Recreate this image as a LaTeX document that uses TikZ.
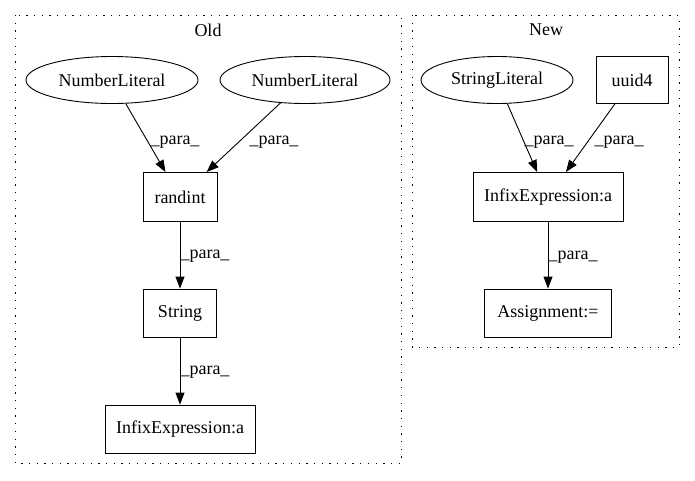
\documentclass[tikz,border=0pt]{standalone}
\usepackage{fontspec}
\setmainfont{Liberation Serif}
\usetikzlibrary{arrows.meta,shapes.geometric}

\begin{document}
\begin{tikzpicture}[x=1pt,y=-1pt]
			\tikzstyle{every node}+=[inner sep=0pt,font=\fontsize{18}{21}\selectfont]
			\tikzstyle{lit}=[draw,ellipse,line width=0.9pt,minimum height=47,minimum width=172]
			\tikzstyle{op}=[draw,rectangle,line width=0.9pt,minimum height=48]
			\tikzstyle{edge}=[line width=0.9pt,-{Triangle[length=12pt,width=9pt]}]
			\tikzstyle{cluster}=[line width=0.9pt,dash pattern=on 1.3pt off 6.4pt]
			\useasboundingbox (0,0) rectangle (695,480);
			% Old
			\draw [cluster] (15,15) rectangle (401,463);
			\node (old) at (208,30) {Old};
			\node [lit] (num1) at (112,80) {NumberLiteral};
			\node [lit,minimum width=170] (num2) at (305,80) {NumberLiteral};
			\node [op,minimum width=74,minimum height=49] (randint) at (180,197) {randint};
			\node [op,minimum width=73] (string) at (180,313) {String};
			\node [op,minimum width=150] (infixold) at (180,429) {InfixExpression:a};
			\draw [edge] (num1) -- (randint);
			\draw [edge] (num2) -- (randint);
			\draw [edge] (randint) -- (string);
			\draw [edge] (string) -- (infixold);
			\node (p1) at (175,142) {\_para\_};
			\node (p2) at (274,142) {\_para\_};
			\node (p3) at (205,256) {\_para\_};
			\node (p4) at (205,372) {\_para\_};
			% New
			\draw [cluster] (412,15) rectangle (679,347);
			\node (new) at (546,30) {New};
			\node [lit,minimum width=152] (strlit) at (497,80) {StringLiteral};
			\node [op,minimum width=72,minimum height=47] (uuid) at (632,80) {uuid4};
			\node [op,minimum width=150,minimum height=49] (infixnew) at (548,197) {InfixExpression:a};
			\node [op,minimum width=127] (assign) at (548,313) {Assignment:=};
			\draw [edge] (strlit) -- (infixnew);
			\draw [edge] (uuid) -- (infixnew);
			\draw [edge] (infixnew) -- (assign);
			\node (p5) at (549,142) {\_para\_};
			\node (p6) at (619,142) {\_para\_};
			\node (p7) at (573,257) {\_para\_};
\end{tikzpicture}
\end{document}
